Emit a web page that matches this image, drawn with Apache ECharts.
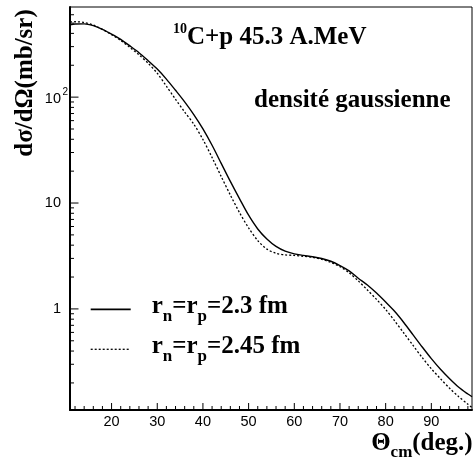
<!DOCTYPE html>
<html><head><meta charset="utf-8">
<script src="https://cdn.jsdelivr.net/npm/echarts@6/dist/echarts.min.js"></script>
<style>html,body{margin:0;padding:0;background:#fff}#c{width:474px;height:464px}</style>
</head><body><div id="c"></div>
<script>
const theta = [10.9, 12, 14, 16, 18, 20, 22, 24, 26, 28, 30, 32, 34, 36, 38, 40, 42, 44, 46, 48, 50, 52, 54, 56, 58, 60, 62, 64, 66, 68, 70, 72, 74, 76, 78, 80, 82, 84, 86, 88, 90, 92, 94, 96, 98, 98.9];
const sigmaSolid = [481, 490, 492, 473, 437, 394, 351, 305, 263, 221, 184, 148, 116, 90.2, 68.4, 50.1, 35.1, 23.7, 16.0, 11.0, 7.67, 5.69, 4.57, 3.89, 3.51, 3.31, 3.20, 3.11, 2.99, 2.82, 2.57, 2.29, 1.95, 1.68, 1.41, 1.16, 0.944, 0.741, 0.569, 0.437, 0.339, 0.269, 0.219, 0.182, 0.157, 0.148];
const sigmaDotted = [514, 515, 507, 479, 437, 389, 343, 295, 251, 209, 168, 127, 95.5, 72.4, 55.6, 39.8, 26.9, 17.8, 11.9, 8.13, 5.82, 4.42, 3.67, 3.35, 3.24, 3.20, 3.14, 3.07, 2.94, 2.75, 2.51, 2.19, 1.84, 1.51, 1.23, 0.989, 0.767, 0.589, 0.452, 0.347, 0.272, 0.219, 0.178, 0.148, 0.126, 0.117];
const xMajorTicks = [20, 30, 40, 50, 60, 70, 80, 90];
const xTickLabels = ['20', '30', '40', '50', '60', '70', '80', '90'];
const xMinorTicks = [12, 14, 16, 18, 22, 24, 26, 28, 32, 34, 36, 38, 42, 44, 46, 48, 52, 54, 56, 58, 62, 64, 66, 68, 72, 74, 76, 78, 82, 84, 86, 88, 92, 94, 96, 98];
const yMajorTicks = [1, 10, 100];
const yTickLabels = ['1', '10', '10'];
const yTickExponents = ['', '', '2'];
const yMinorTicks = [0.2, 0.3, 0.4, 0.5, 0.6, 0.7, 0.8, 0.9, 2, 3, 4, 5, 6, 7, 8, 9, 20, 30, 40, 50, 60, 70, 80, 90, 200, 300, 400, 500, 600];
const X_MIN = 10.9, X_MAX = 98.9, Y_MIN = 0.111, Y_MAX = 710;

const SERIF = '"Liberation Serif", "Times New Roman", serif';
const SANS = '"Liberation Sans", Arial, sans-serif';
const chart = echarts.init(document.getElementById('c'), null, {renderer: 'canvas'});

function renderTicks(params, api) {
  const children = [];
  const xl = api.coord([X_MIN, 1])[0];
  const yb = api.coord([30, Y_MIN])[1];
  const ln = (x1, y1, x2, y2) => children.push({type: 'line', shape: {x1, y1, x2, y2}, style: {stroke: '#000', lineWidth: 1}});
  xMajorTicks.forEach((v, i) => {
    const px = api.coord([v, 1])[0];
    ln(px, yb, px, yb - 7);
    children.push({type: 'text', x: px, y: yb + 11.5, style: {text: xTickLabels[i], font: '14.5px ' + SANS, fill: '#000', align: 'center', verticalAlign: 'middle'}});
  });
  xMinorTicks.forEach(v => { const px = api.coord([v, 1])[0]; ln(px, yb, px, yb - 4); });
  yMajorTicks.forEach((v, i) => {
    const py = api.coord([30, v])[1];
    ln(xl, py, xl + 8.5, py);
    const off = yTickExponents[i] ? 1.5 : 0;
    children.push({type: 'text', x: xl - 9, y: py + off, style: {text: yTickLabels[i], font: '14.5px ' + SANS, fill: '#000', align: 'right', verticalAlign: 'middle'}});
    if (yTickExponents[i]) {
      children.push({type: 'text', x: xl - 7.5, y: py - 4.5, style: {text: yTickExponents[i], font: '10px ' + SANS, fill: '#000', align: 'left', verticalAlign: 'middle'}});
    }
  });
  yMinorTicks.forEach(v => { const py = api.coord([30, v])[1]; ln(xl, py, xl + 4, py); });
  return {type: 'group', children};
}

const richSet = (mainAlign, small, smallAlign, lh) => ({
  m: {fontSize: 25, fontWeight: 'bold', fontFamily: SERIF, lineHeight: lh, verticalAlign: mainAlign, color: '#000'},
  s: {fontSize: small, fontWeight: 'bold', fontFamily: SERIF, lineHeight: lh, verticalAlign: smallAlign, color: '#000'}
});

const option = {
  animation: false,
  backgroundColor: '#fff',
  grid: {left: 70, top: 7, right: 2, bottom: 54, show: true, borderColor: '#000', borderWidth: 1},
  xAxis: {type: 'value', min: X_MIN, max: X_MAX, axisLine: {show: true, lineStyle: {color: '#000', width: 2}}, axisTick: {show: false}, axisLabel: {show: false}, splitLine: {show: false}},
  yAxis: {type: 'log', min: Y_MIN, max: Y_MAX, axisLine: {show: true, lineStyle: {color: '#000', width: 2}}, axisTick: {show: false}, axisLabel: {show: false}, splitLine: {show: false}},
  series: [
    {type: 'line', name: 'rn=rp=2.3 fm', data: theta.map((t, i) => [t, sigmaSolid[i]]), symbol: 'none', smooth: 0.3, lineStyle: {color: '#000', width: 1.4}},
    {type: 'line', name: 'rn=rp=2.45 fm', data: theta.map((t, i) => [t, sigmaDotted[i]]), symbol: 'none', smooth: 0.3, lineStyle: {color: '#000', width: 1.3, type: [2, 2]}},
    {type: 'custom', data: [[30, 1]], renderItem: renderTicks, silent: true, clip: false, z: 10}
  ],
  graphic: [
    {type: 'text', x: 173, y: 22.3, style: {text: '{s|10}{m|C+p 45.3 A.MeV}', rich: richSet('bottom', 14, 'top', 27.8), align: 'left', verticalAlign: 'top'}},
    {type: 'text', x: 254, y: 100.6, style: {text: 'densité gaussienne', font: 'bold 25px ' + SERIF, fill: '#000', align: 'left', verticalAlign: 'middle'}},
    {type: 'text', x: 26, y: 83, rotation: Math.PI / 2, style: {text: 'dσ/dΩ(mb/sr)', font: 'bold 25px ' + SERIF, fill: '#000', align: 'center', verticalAlign: 'middle'}},
    {type: 'text', x: 472.7, y: 430.8, style: {text: '{m|Θ}{s|cm}{m|(deg.)}', rich: richSet('top', 17, 'bottom', 30), align: 'right', verticalAlign: 'top'}},
    {type: 'line', shape: {x1: 90.7, y1: 309.3, x2: 130.7, y2: 309.3}, style: {stroke: '#000', lineWidth: 1.8}},
    {type: 'line', shape: {x1: 90.7, y1: 349.3, x2: 130.7, y2: 349.3}, style: {stroke: '#000', lineWidth: 1.3, lineDash: [2, 2]}},
    {type: 'text', x: 151.7, y: 294.1, style: {text: '{m|r}{s|n}{m|=r}{s|p}{m|=2.3 fm}', rich: richSet('top', 17, 'bottom', 31.4), align: 'left', verticalAlign: 'top'}},
    {type: 'text', x: 151.7, y: 334.1, style: {text: '{m|r}{s|n}{m|=r}{s|p}{m|=2.45 fm}', rich: richSet('top', 17, 'bottom', 31.4), align: 'left', verticalAlign: 'top'}}
  ]
};
chart.setOption(option);
</script></body></html>
